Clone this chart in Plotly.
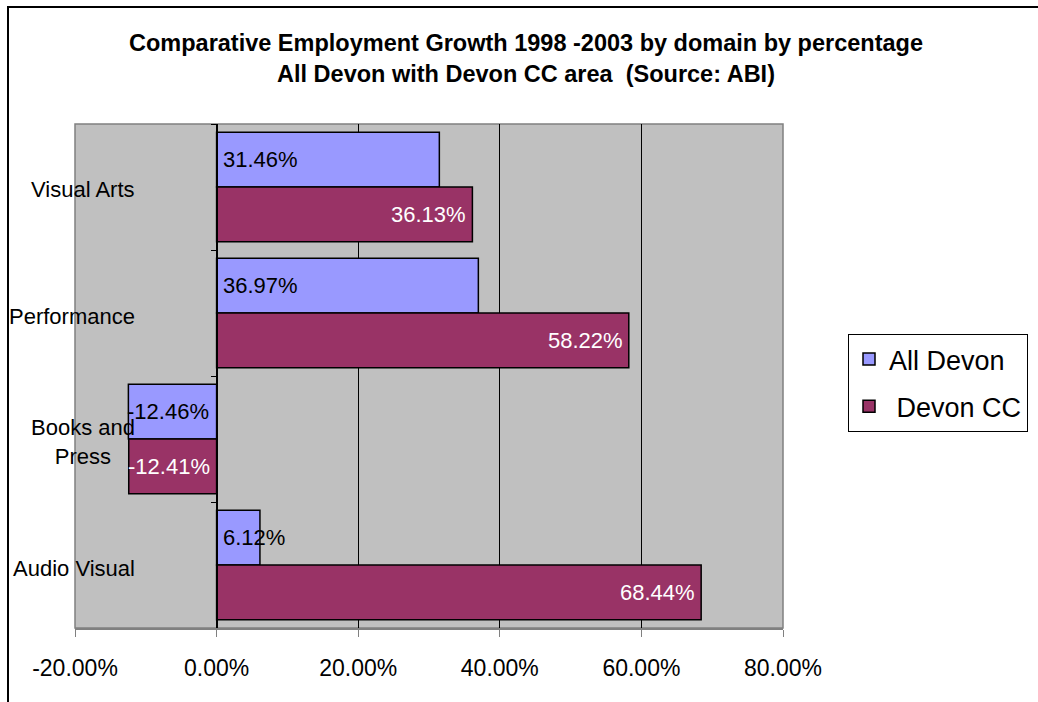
import plotly.graph_objects as go

categories = ["Visual Arts", "Performance", "Books and Press", "Audio Visual"]
category_labels = ["Visual Arts", "Performance", "Books and<br>Press", "Audio Visual"]
all_devon = [31.46, 36.97, -12.46, 6.12]
devon_cc = [36.13, 58.22, -12.41, 68.44]
x_tick_vals = [-20, 0, 20, 40, 60, 80]
x_tick_text = ["-20.00%", "0.00%", "20.00%", "40.00%", "60.00%", "80.00%"]

W, H = 1038, 702
PL, PR, PT, PB = 75, 783, 124, 628
FONT = "Liberation Sans, Arial, sans-serif"
BAND = (PB - PT) / len(categories)
BARGAP = 0.13
HALF = BAND * (1 - BARGAP) / 4  # offset of each bar centre from band centre

def fmt(v):
    return f"{v:.2f}%"

fig = go.Figure()
fig.add_trace(go.Bar(
    y=categories, x=all_devon, orientation="h", name="All Devon",
    marker=dict(color="#9999FF", line=dict(color="#000000", width=1.5)),
    legendgroup="a", hoverinfo="x+y",
))
fig.add_trace(go.Bar(
    y=categories, x=devon_cc, orientation="h", name="\u00a0Devon CC",
    marker=dict(color="#993366", line=dict(color="#000000", width=1.5)),
    legendgroup="b", hoverinfo="x+y",
))

x0 = PL / W
x1 = PR / W
zero_px = PL + (0 - (-20)) / 100 * (PR - PL)

fig.update_layout(
    width=W, height=H,
    margin=dict(l=0, r=0, t=0, b=0, autoexpand=False),
    paper_bgcolor="white",
    plot_bgcolor="#C0C0C0",
    barmode="group",
    bargap=BARGAP,
    bargroupgap=0,
    font=dict(family=FONT, size=22, color="#000000"),
    title=dict(
        text="Comparative Employment Growth 1998 -2003 by domain by percentage<br>All Devon with Devon CC area  (Source: ABI)",
        x=526 / W, xanchor="center", xref="paper",
        y=1 - 51 / H, yanchor="middle", yref="container",
        font=dict(family=FONT, size=23.5, color="#000000", weight="bold"),
    ),
    xaxis=dict(
        domain=[x0, x1], range=[-20, 80], automargin=False,
        tickvals=x_tick_vals, ticktext=x_tick_text,
        showgrid=True, gridcolor="#000000", gridwidth=1,
        zeroline=True, zerolinecolor="#000000", zerolinewidth=1,
        showline=True, linecolor="#808080", linewidth=1.5,
        ticks="outside", ticklen=7, tickcolor="#808080",
        ticklabelstandoff=12,
        tickfont=dict(family=FONT, size=23, color="#000000"),
        fixedrange=True,
    ),
    yaxis=dict(
        domain=[1 - PB / H, 1 - PT / H], automargin=False,
        anchor="free", position=zero_px / W,
        categoryorder="array", categoryarray=categories,
        autorange="reversed",
        showticklabels=False,
        showgrid=False, zeroline=False,
        showline=True, linecolor="#000000", linewidth=1,
        ticks="outside", ticklen=6, tickcolor="#000000",
        tickson="boundaries",
        fixedrange=True,
    ),
    legend=dict(
        x=848 / W, y=1 - 334 / H, xanchor="left", yanchor="top",
        bgcolor="white", bordercolor="#000000", borderwidth=1,
        font=dict(family=FONT, size=27, color="#000000"),
        traceorder="grouped", tracegroupgap=9,
    ),
    showlegend=True,
)

# plot area border
fig.add_shape(type="rect", xref="x domain", yref="y domain",
              x0=0, x1=1, y0=0, y1=1,
              line=dict(color="#808080", width=1.5), layer="below")
# chart area border
fig.add_shape(type="rect", xref="paper", yref="paper",
              x0=8 / W, x1=1.05, y0=-0.05, y1=1 - 7 / H,
              line=dict(color="#000000", width=2), fillcolor="rgba(0,0,0,0)")

# category labels
for cat, lab in zip(categories, category_labels):
    fig.add_annotation(
        x=137 / W, xref="paper", y=cat, yref="y", yshift=-3,
        text=lab, showarrow=False, xanchor="right", yanchor="middle",
        align="center", font=dict(family=FONT, size=22, color="#000000"),
    )

# data labels
for cat, v in zip(categories, all_devon):
    fig.add_annotation(
        x=min(0, v), xref="x", y=cat, yref="y", yshift=HALF,
        text=fmt(v), showarrow=False, xanchor="left", yanchor="middle",
        xshift=4 if v >= 0 else -3,
        font=dict(family=FONT, size=22, color="#000000"),
    )
for cat, v in zip(categories, devon_cc):
    fig.add_annotation(
        x=v, xref="x", y=cat, yref="y", yshift=-HALF,
        text=fmt(v), showarrow=False,
        xanchor="right" if v >= 0 else "left",
        xshift=-4 if v >= 0 else -3,
        font=dict(family=FONT, size=22, color="#FFFFFF"),
    )

fig.write_html("out.html")
